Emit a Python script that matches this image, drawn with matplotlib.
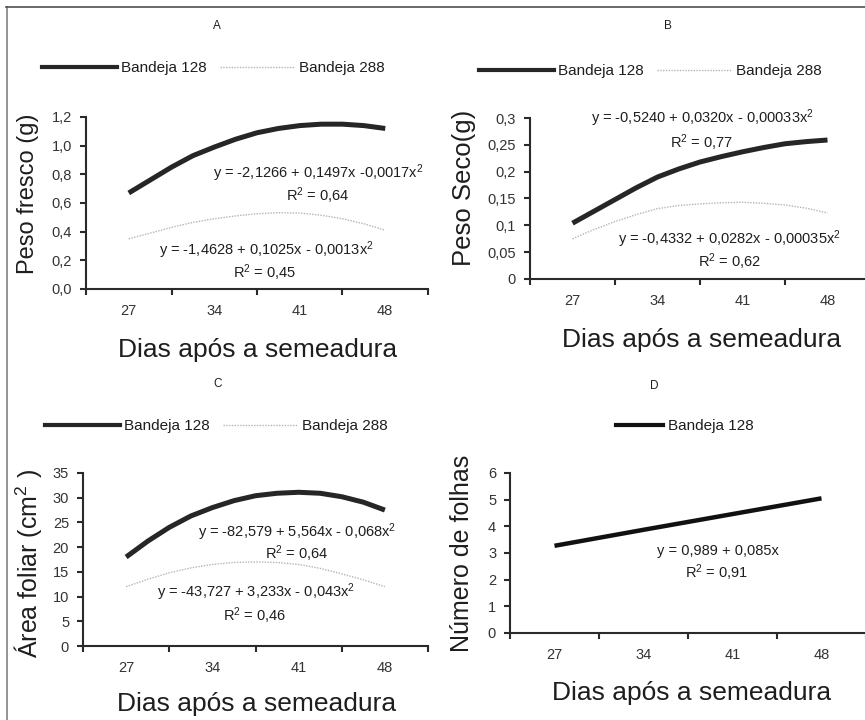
import matplotlib
matplotlib.use("Agg")
import matplotlib.pyplot as plt
from matplotlib.lines import Line2D

plt.rcParams['font.family'] = ['Liberation Sans', 'DejaVu Sans']
plt.rcParams['mathtext.fontset'] = 'custom'
plt.rcParams['mathtext.rm'] = 'Liberation Sans'
plt.rcParams['mathtext.it'] = 'Liberation Sans:italic'
plt.rcParams['mathtext.default'] = 'regular'

# ---------------- data ----------------
days = [27, 34, 41, 48]
day_labels = ['27', '34', '41', '48']
curve_days = [27, 28.75, 30.5, 32.25, 34, 35.75, 37.5, 39.25, 41, 42.75, 44.5, 46.25, 48]

fresh_128 = [0.67, 0.76, 0.85, 0.93, 0.99, 1.045, 1.09, 1.12, 1.14, 1.15, 1.15, 1.14, 1.12]
fresh_288 = [0.35, 0.39, 0.43, 0.465, 0.49, 0.51, 0.525, 0.532, 0.53, 0.515, 0.49, 0.455, 0.41]
dry_128 = [0.104, 0.126, 0.148, 0.170, 0.190, 0.205, 0.218, 0.228, 0.237, 0.245, 0.252, 0.256, 0.259]
dry_288 = [0.075, 0.092, 0.107, 0.120, 0.131, 0.137, 0.140, 0.142, 0.143, 0.141, 0.138, 0.132, 0.123]
leaf_area_128 = [18.0, 21.2, 24.0, 26.3, 28.0, 29.4, 30.4, 30.9, 31.1, 30.9, 30.2, 29.1, 27.5]
leaf_area_288 = [12.0, 13.5, 14.8, 15.8, 16.5, 16.9, 17.0, 16.9, 16.5, 15.7, 14.6, 13.4, 12.0]
leaves_128 = [3.27, 3.87, 4.46, 5.05]

yticks_A = [0, 0.2, 0.4, 0.6, 0.8, 1.0, 1.2]
yticklabels_A = ['0,0', '0,2', '0,4', '0,6', '0,8', '1,0', '1,2']
yticks_B = [0, 0.05, 0.1, 0.15, 0.2, 0.25, 0.3]
yticklabels_B = ['0', '0,05', '0,1', '0,15', '0,2', '0,25', '0,3']
yticks_C = [0, 5, 10, 15, 20, 25, 30, 35]
yticklabels_C = [str(v) for v in yticks_C]
yticks_D = [0, 1, 2, 3, 4, 5, 6]
yticklabels_D = [str(v) for v in yticks_D]

label_128 = 'Bandeja 128'
label_288 = 'Bandeja 288'
xlabel = 'Dias após a semeadura'

# ---------------- figure ----------------
W, H = 865, 720
fig = plt.figure(figsize=(W / 100, H / 100), dpi=100)


def fx(px):
    return px / W


def fy(py):
    return 1 - py / H


def make_ax(left, right, top, bottom):
    return fig.add_axes([fx(left), fy(bottom), (right - left) / W, (bottom - top) / H])


DARK = '#262626'
TXT = '#1e1e1e'
TICKC = '#333333'
DOT = '#b4b4b4'


def style(ax, yticks, yticklabels, ymax):
    ax.set_xlim(23.5, 51.5)
    ax.set_ylim(0, ymax)
    for s in ['top', 'right']:
        ax.spines[s].set_visible(False)
    for s in ['left', 'bottom']:
        ax.spines[s].set_linewidth(1.5)
        ax.spines[s].set_color('#2a2a2a')
    ax.set_xticks([23.5, 30.5, 37.5, 44.5, 51.5])
    ax.set_xticklabels([])
    ax.set_xticks(days, minor=True)
    ax.set_xticklabels(day_labels, minor=True)
    ax.tick_params(axis='x', which='major', direction='out', length=4, width=1.5, color='#2a2a2a')
    ax.tick_params(axis='x', which='minor', length=0, pad=11, labelsize=10.5, labelcolor=TICKC)
    ax.set_yticks(yticks)
    ax.set_yticklabels(yticklabels)
    ax.tick_params(axis='y', direction='out', length=4, width=1.5, color='#2a2a2a',
                   pad=6, labelsize=10.5, labelcolor=TICKC)
    ax.patch.set_alpha(0)


def legend(ax, handles, x, y, hl=4.9):
    ax.legend(handles=handles, loc='center left', bbox_to_anchor=(fx(x), fy(y)),
              bbox_transform=fig.transFigure, ncol=len(handles), frameon=False,
              borderpad=0, borderaxespad=0, handlelength=hl, handletextpad=0.28,
              columnspacing=0.85, fontsize=11, labelcolor=TXT)


def eq(x, y, s):
    fig.text(fx(x), fy(y), s, ha='center', va='center', fontsize=10.5, color=TXT)


def handles2():
    return [Line2D([], [], color=DARK, lw=3.0, label=label_128),
            Line2D([], [], color=DOT, lw=1.0, ls=(0, (1, 1)), label=label_288)]


# ---------- Panel A ----------
axA = make_ax(86, 428, 117, 289)
style(axA, yticks_A, yticklabels_A, 1.2)
axA.plot(curve_days, fresh_128, color=DARK, lw=3.6, solid_capstyle='butt', solid_joinstyle='round')
axA.plot(curve_days, fresh_288, color=DOT, lw=1.0, ls=(0, (1, 1)))
legend(axA, handles2(), 42, 68)
fig.text(fx(217), fy(26), 'A', ha='center', va='center', fontsize=8.5, color=TXT)
fig.text(fx(28), fy(194), 'Peso fresco (g)', rotation=90, ha='center', va='center', fontsize=17, color=TXT)
fig.text(fx(258), fy(357), xlabel, ha='center', va='baseline', fontsize=19, color=TXT)
eq(318, 173, 'y = -2,1266 + 0,1497x -0,0017x$^2$')
eq(318, 196, 'R$^2$ = 0,64')
eq(266, 250, 'y = -1,4628 + 0,1025x - 0,0013x$^2$')
eq(265, 273, 'R$^2$ = 0,45')

# ---------- Panel B ----------
axB = make_ax(530, 870, 118, 279)
style(axB, yticks_B, yticklabels_B, 0.3)
axB.plot(curve_days, dry_128, color=DARK, lw=3.6, solid_capstyle='butt', solid_joinstyle='round')
axB.plot(curve_days, dry_288, color=DOT, lw=1.0, ls=(0, (1, 1)))
legend(axB, handles2(), 479, 71)
fig.text(fx(668), fy(26), 'B', ha='center', va='center', fontsize=8.5, color=TXT)
fig.text(fx(464), fy(188), 'Peso Seco(g)', rotation=90, ha='center', va='center', fontsize=18.5, color=TXT)
fig.text(fx(702), fy(347), xlabel, ha='center', va='baseline', fontsize=19, color=TXT)
eq(702, 118, 'y = -0,5240 + 0,0320x - 0,00033x$^2$')
eq(702, 143, 'R$^2$ = 0,77')
eq(729, 239, 'y = -0,4332 + 0,0282x - 0,00035x$^2$')
eq(730, 262, 'R$^2$ = 0,62')

# ---------- Panel C ----------
axC = make_ax(83, 428, 473, 646)
style(axC, yticks_C, yticklabels_C, 35)
axC.plot(curve_days, leaf_area_128, color=DARK, lw=3.6, solid_capstyle='butt', solid_joinstyle='round')
axC.plot(curve_days, leaf_area_288, color=DOT, lw=1.0, ls=(0, (1, 1)))
legend(axC, handles2(), 45, 426)
fig.text(fx(218), fy(384), 'C', ha='center', va='center', fontsize=8.5, color=TXT)
fig.text(fx(28), fy(563), 'Área foliar (cm$^2$ )', rotation=90, ha='center', va='center', fontsize=18, color=TXT)
fig.text(fx(257), fy(711), xlabel, ha='center', va='baseline', fontsize=19, color=TXT)
eq(297, 532, 'y = -82,579 + 5,564x - 0,068x$^2$')
eq(297, 554, 'R$^2$ = 0,64')
eq(256, 592, 'y = -43,727 + 3,233x - 0,043x$^2$')
eq(255, 616, 'R$^2$ = 0,46')

# ---------- Panel D ----------
axD = make_ax(510, 866, 473, 633)
style(axD, yticks_D, yticklabels_D, 6)
axD.plot(days, leaves_128, color='#111111', lw=3.2, solid_capstyle='butt')
legend(axD, [Line2D([], [], color='#111111', lw=3.0, label=label_128)], 616, 426, hl=3.1)
fig.text(fx(654), fy(386), 'D', ha='center', va='center', fontsize=8.5, color=TXT)
fig.text(fx(462), fy(553), 'Número de folhas', rotation=90, ha='center', va='center', fontsize=18, color=TXT)
fig.text(fx(692), fy(700), xlabel, ha='center', va='baseline', fontsize=19, color=TXT)
eq(718, 551, 'y = 0,989 + 0,085x')
eq(717, 573, 'R$^2$ = 0,91')

# ---------- outer frame (left and top edges) ----------
fig.add_artist(Line2D([fx(6.5), fx(6.5)], [fy(7), 0], transform=fig.transFigure, color='#808080', lw=1.2))
fig.add_artist(Line2D([fx(6), 1], [fy(7), fy(7)], transform=fig.transFigure, color='#505050', lw=1.2))

fig.savefig('out.png', dpi=100)
